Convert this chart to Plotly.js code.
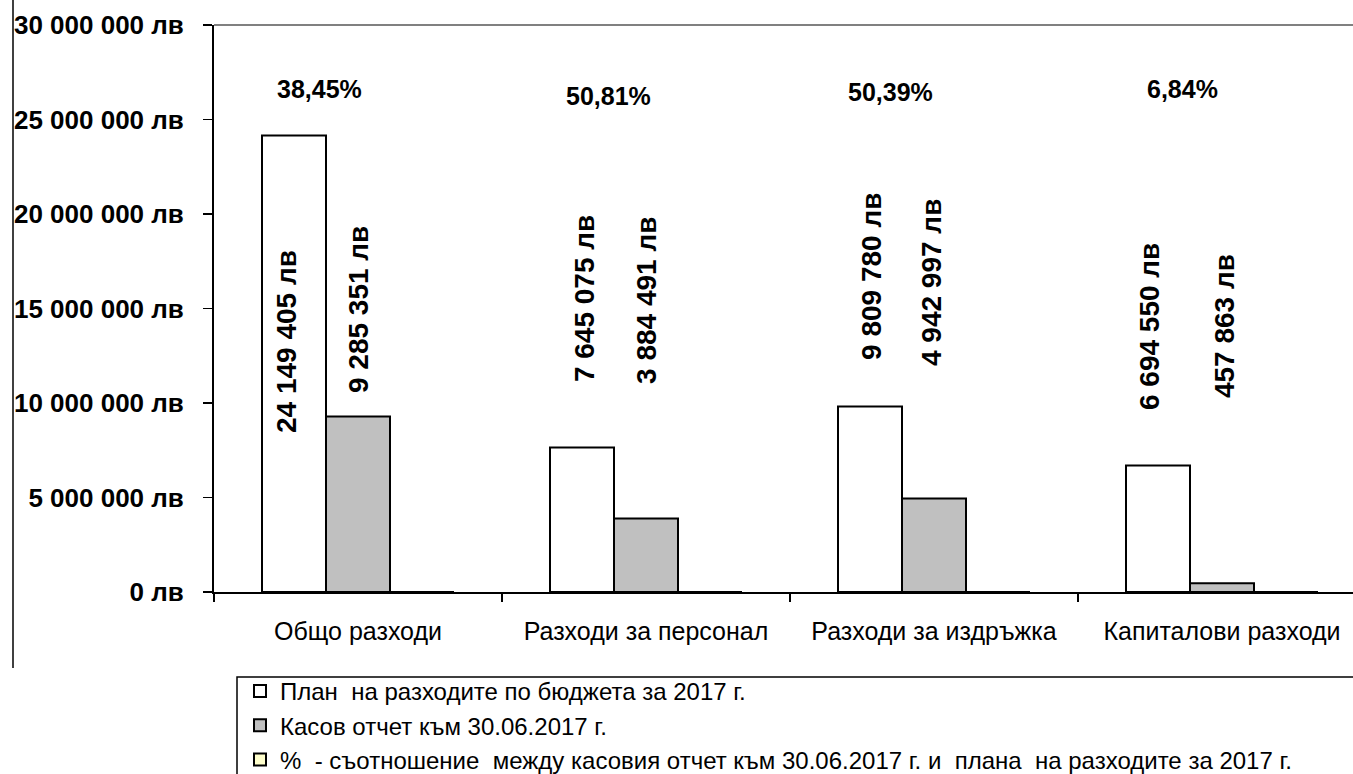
<!DOCTYPE html>
<html>
<head>
<meta charset="utf-8">
<script src="https://cdn.plot.ly/plotly-3.0.1.min.js"></script>
<style>
html, body { margin: 0; padding: 0; overflow: hidden; background: #fff; width: 1353px; height: 774px; }
#chart { width: 1400px; height: 774px; }
</style>
</head>
<body>
<div id="chart"></div>
<script>
// ---- data ----
const categories = ['Общо разходи', 'Разходи за персонал', 'Разходи за издръжка', 'Капиталови разходи'];
const planValues = [24149405, 7645075, 9809780, 6694550];
const cashValues = [9285351, 3884491, 4942997, 457863];
const pctValues = [38.45, 50.81, 50.39, 6.84];
const seriesNames = [
  'План  на разходите по бюджета за 2017 г.',
  'Касов отчет към 30.06.2017 г.',
  '%  - съотношение  между касовия отчет към 30.06.2017 г. и  плана  на разходите за 2017 г.'
];
const yTickVals = [0, 5000000, 10000000, 15000000, 20000000, 25000000, 30000000];

// ---- label placement (layout only) ----
const planLabelY = [13.23e6, 15.50e6, 16.67e6, 14.02e6];
const cashLabelY = [14.92e6, 15.40e6, 16.35e6, 14.07e6];
const pctLabelY = [26.61e6, 26.24e6, 26.46e6, 26.61e6];
const planLabelShift = [-71, -62, -62, -73];
const cashLabelShift = [0, 1, -2, 2];
const pctLabelShift = [-39, -38, -44, -40];

function fmtLv(n) {
  return String(n).replace(/\B(?=(\d{3})+(?!\d))/g, ' ') + ' лв';
}
function fmtPct(p) {
  return p.toFixed(2).replace('.', ',') + '%';
}

const FONT = '"Liberation Sans", Arial, sans-serif';

const traces = [
  {
    type: 'bar', name: seriesNames[0], x: categories, y: planValues,
    marker: { color: '#FFFFFF', line: { color: '#000000', width: 2 } },
    hoverinfo: 'skip'
  },
  {
    type: 'bar', name: seriesNames[1], x: categories, y: cashValues,
    marker: { color: '#C0C0C0', line: { color: '#000000', width: 2 } },
    hoverinfo: 'skip'
  },
  {
    type: 'bar', name: seriesNames[2], x: categories, y: pctValues,
    marker: { color: '#FFFFCC', line: { color: '#000000', width: 2 } },
    hoverinfo: 'skip'
  }
];

const annotations = [];
categories.forEach((c, i) => {
  annotations.push({
    x: c, y: planLabelY[i], xref: 'x', yref: 'y', text: fmtLv(planValues[i]),
    showarrow: false, textangle: -90, xanchor: 'center', yanchor: 'middle',
    xshift: planLabelShift[i], font: { family: FONT, size: 28, color: '#000', weight: 'bold' }
  });
  annotations.push({
    x: c, y: cashLabelY[i], xref: 'x', yref: 'y', text: fmtLv(cashValues[i]),
    showarrow: false, textangle: -90, xanchor: 'center', yanchor: 'middle',
    xshift: cashLabelShift[i], font: { family: FONT, size: 28, color: '#000', weight: 'bold' }
  });
  annotations.push({
    x: c, y: pctLabelY[i], xref: 'x', yref: 'y', text: fmtPct(pctValues[i]),
    showarrow: false, xanchor: 'center', yanchor: 'middle',
    xshift: pctLabelShift[i], font: { family: FONT, size: 25, color: '#000', weight: 'bold' }
  });
});

// plot area: x 214..1366 px, y 25..592 px
const PW = 1152, PH = 567;
function px(xp) { return (xp - 214) / PW; }
function py(yp) { return (592 - yp) / PH; }

const layout = {
  width: 1400, height: 774,
  margin: { l: 214, r: 34, t: 25, b: 182, pad: 0, autoexpand: false },
  paper_bgcolor: '#FFFFFF', plot_bgcolor: '#FFFFFF',
  font: { family: FONT, color: '#000' },
  barmode: 'group', bargap: 1 / 3, bargroupgap: 0,
  showlegend: true,
  legend: {
    x: px(240), y: py(669), xanchor: 'left', yanchor: 'top',
    orientation: 'v', bgcolor: 'rgba(0,0,0,0)', borderwidth: 0,
    font: { family: FONT, size: 24, color: '#000' },
    traceorder: 'normal'
  },
  xaxis: {
    type: 'category', showgrid: false, zeroline: false,
    showline: true, linecolor: '#000', linewidth: 2,
    ticks: 'outside', tickson: 'boundaries', ticklen: 8, tickwidth: 1.5, tickcolor: '#000',
    tickfont: { family: FONT, size: 25, color: '#000' },
    ticklabelstandoff: 16
  },
  yaxis: {
    range: [0, 30000000], showgrid: false, zeroline: false,
    showline: true, linecolor: '#000', linewidth: 2,
    tickmode: 'array', tickvals: yTickVals, ticktext: yTickVals.map(fmtLv),
    ticks: 'outside', ticklen: 9, tickwidth: 1.5, tickcolor: '#000',
    tickfont: { family: FONT, size: 26, color: '#000', weight: 'bold' },
    ticklabelstandoff: 14
  },
  annotations: annotations,
  shapes: [
    { type: 'line', xref: 'paper', yref: 'paper', x0: 0, x1: 1, y0: 1, y1: 1,
      line: { color: '#808080', width: 2 } },
    { type: 'line', xref: 'paper', yref: 'paper', x0: px(13), x1: px(13), y0: py(0), y1: py(668),
      line: { color: '#000', width: 1.5 } },
    { type: 'rect', xref: 'paper', yref: 'paper', x0: px(237), x1: px(1420), y0: py(677), y1: py(800),
      line: { color: '#000', width: 1.5 }, fillcolor: 'rgba(0,0,0,0)' }
  ]
};

Plotly.newPlot('chart', traces, layout, { displayModeBar: false, staticPlot: true });
</script>
</body>
</html>
